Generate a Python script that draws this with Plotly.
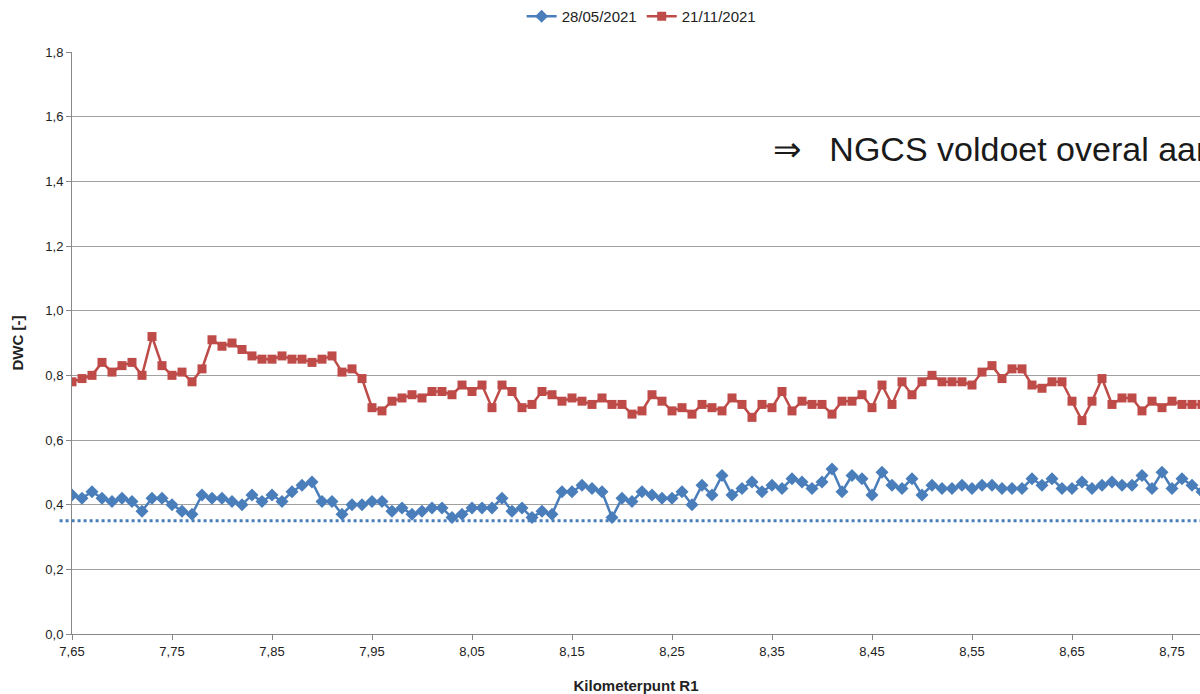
import plotly.graph_objects as go

km_start = 7.65
km_step = 0.01

dwc_2021_05_28 = [
    0.43, 0.42, 0.44, 0.42, 0.41, 0.42, 0.41, 0.38, 0.42, 0.42,
    0.40, 0.38, 0.37, 0.43, 0.42, 0.42, 0.41, 0.40, 0.43, 0.41,
    0.43, 0.41, 0.44, 0.46, 0.47, 0.41, 0.41, 0.37, 0.40, 0.40,
    0.41, 0.41, 0.38, 0.39, 0.37, 0.38, 0.39, 0.39, 0.36, 0.37,
    0.39, 0.39, 0.39, 0.42, 0.38, 0.39, 0.36, 0.38, 0.37, 0.44,
    0.44, 0.46, 0.45, 0.44, 0.36, 0.42, 0.41, 0.44, 0.43, 0.42,
    0.42, 0.44, 0.40, 0.46, 0.43, 0.49, 0.43, 0.45, 0.47, 0.44,
    0.46, 0.45, 0.48, 0.47, 0.45, 0.47, 0.51, 0.44, 0.49, 0.48,
    0.43, 0.50, 0.46, 0.45, 0.48, 0.43, 0.46, 0.45, 0.45, 0.46,
    0.45, 0.46, 0.46, 0.45, 0.45, 0.45, 0.48, 0.46, 0.48, 0.45,
    0.45, 0.47, 0.45, 0.46, 0.47, 0.46, 0.46, 0.49, 0.45, 0.50,
    0.45, 0.48, 0.46, 0.44,
]

dwc_2021_11_21 = [
    0.78, 0.79, 0.80, 0.84, 0.81, 0.83, 0.84, 0.80, 0.92, 0.83,
    0.80, 0.81, 0.78, 0.82, 0.91, 0.89, 0.90, 0.88, 0.86, 0.85,
    0.85, 0.86, 0.85, 0.85, 0.84, 0.85, 0.86, 0.81, 0.82, 0.79,
    0.70, 0.69, 0.72, 0.73, 0.74, 0.73, 0.75, 0.75, 0.74, 0.77,
    0.75, 0.77, 0.70, 0.77, 0.75, 0.70, 0.71, 0.75, 0.74, 0.72,
    0.73, 0.72, 0.71, 0.73, 0.71, 0.71, 0.68, 0.69, 0.74, 0.72,
    0.69, 0.70, 0.68, 0.71, 0.70, 0.69, 0.73, 0.71, 0.67, 0.71,
    0.70, 0.75, 0.69, 0.72, 0.71, 0.71, 0.68, 0.72, 0.72, 0.74,
    0.70, 0.77, 0.71, 0.78, 0.74, 0.78, 0.80, 0.78, 0.78, 0.78,
    0.77, 0.81, 0.83, 0.79, 0.82, 0.82, 0.77, 0.76, 0.78, 0.78,
    0.72, 0.66, 0.72, 0.79, 0.71, 0.73, 0.73, 0.69, 0.72, 0.70,
    0.72, 0.71, 0.71, 0.71,
]

km = [round(km_start + i * km_step, 2) for i in range(len(dwc_2021_05_28))]

threshold = 0.35
x_ticks = [7.65, 7.75, 7.85, 7.95, 8.05, 8.15, 8.25, 8.35, 8.45, 8.55, 8.65, 8.75]
y_ticks = [0.0, 0.2, 0.4, 0.6, 0.8, 1.0, 1.2, 1.4, 1.6, 1.8]

FONT = "Liberation Sans Narrow, Liberation Sans, Arial, sans-serif"
BLUE = "#4A7EBB"
RED = "#BE4B48"

fig = go.Figure()
fig.add_trace(go.Scatter(
    x=km, y=dwc_2021_05_28, name="28/05/2021", mode="lines+markers",
    line=dict(color=BLUE, width=2.5),
    marker=dict(symbol="diamond", size=10, color=BLUE),
))
fig.add_trace(go.Scatter(
    x=km, y=dwc_2021_11_21, name="21/11/2021", mode="lines+markers",
    line=dict(color=RED, width=2.5),
    marker=dict(symbol="square", size=9, color=RED),
))

fig.add_shape(type="line", xref="paper", yref="y", x0=-0.011, x1=1,
              y0=threshold, y1=threshold,
              line=dict(color=BLUE, width=3, dash="dot"), layer="above")

fig.add_annotation(xref="paper", yref="y", x=0.62, y=1.5, xanchor="left",
                   yanchor="middle", showarrow=False,
                   text="\u21D2   NGCS voldoet overal aan",
                   font=dict(family="Liberation Sans, Arial, sans-serif", size=34, color="#1a1a1a"))

fig.update_layout(
    width=1200, height=694,
    margin=dict(l=72, r=0, t=52, b=60, autoexpand=False),
    paper_bgcolor="white", plot_bgcolor="white",
    separators=",.",
    font=dict(family=FONT, size=13, color="#222"),
    showlegend=True,
    legend=dict(orientation="h", x=0.505, xanchor="center", y=1, yanchor="top",
                yref="container", font=dict(size=15), itemwidth=30,
                tracegroupgap=0),
    xaxis=dict(range=[7.65, 8.778], tickvals=x_ticks, tickformat=".2f",
               showgrid=False, showline=True, linecolor="#888", linewidth=1,
               ticks="outside", ticklen=5, tickcolor="#888", zeroline=False,
               automargin=False,
               title=dict(text="<b>Kilometerpunt R1</b>", font=dict(size=15), standoff=22)),
    yaxis=dict(range=[0, 1.8], tickvals=y_ticks, tickformat=".1f",
               showgrid=True, gridcolor="#A0A0A0", gridwidth=1,
               showline=True, linecolor="#888", linewidth=1,
               ticks="outside", ticklen=5, tickcolor="#888", zeroline=False,
               automargin=False,
               title=dict(text="<b>DWC [-]</b>", font=dict(size=15), standoff=18)),
)

fig.write_html(
    "out.html",
    config={"displayModeBar": False},
    post_script="document.body.style.margin='0';document.body.style.overflow='hidden';"
                "document.documentElement.style.overflow='hidden';",
)
